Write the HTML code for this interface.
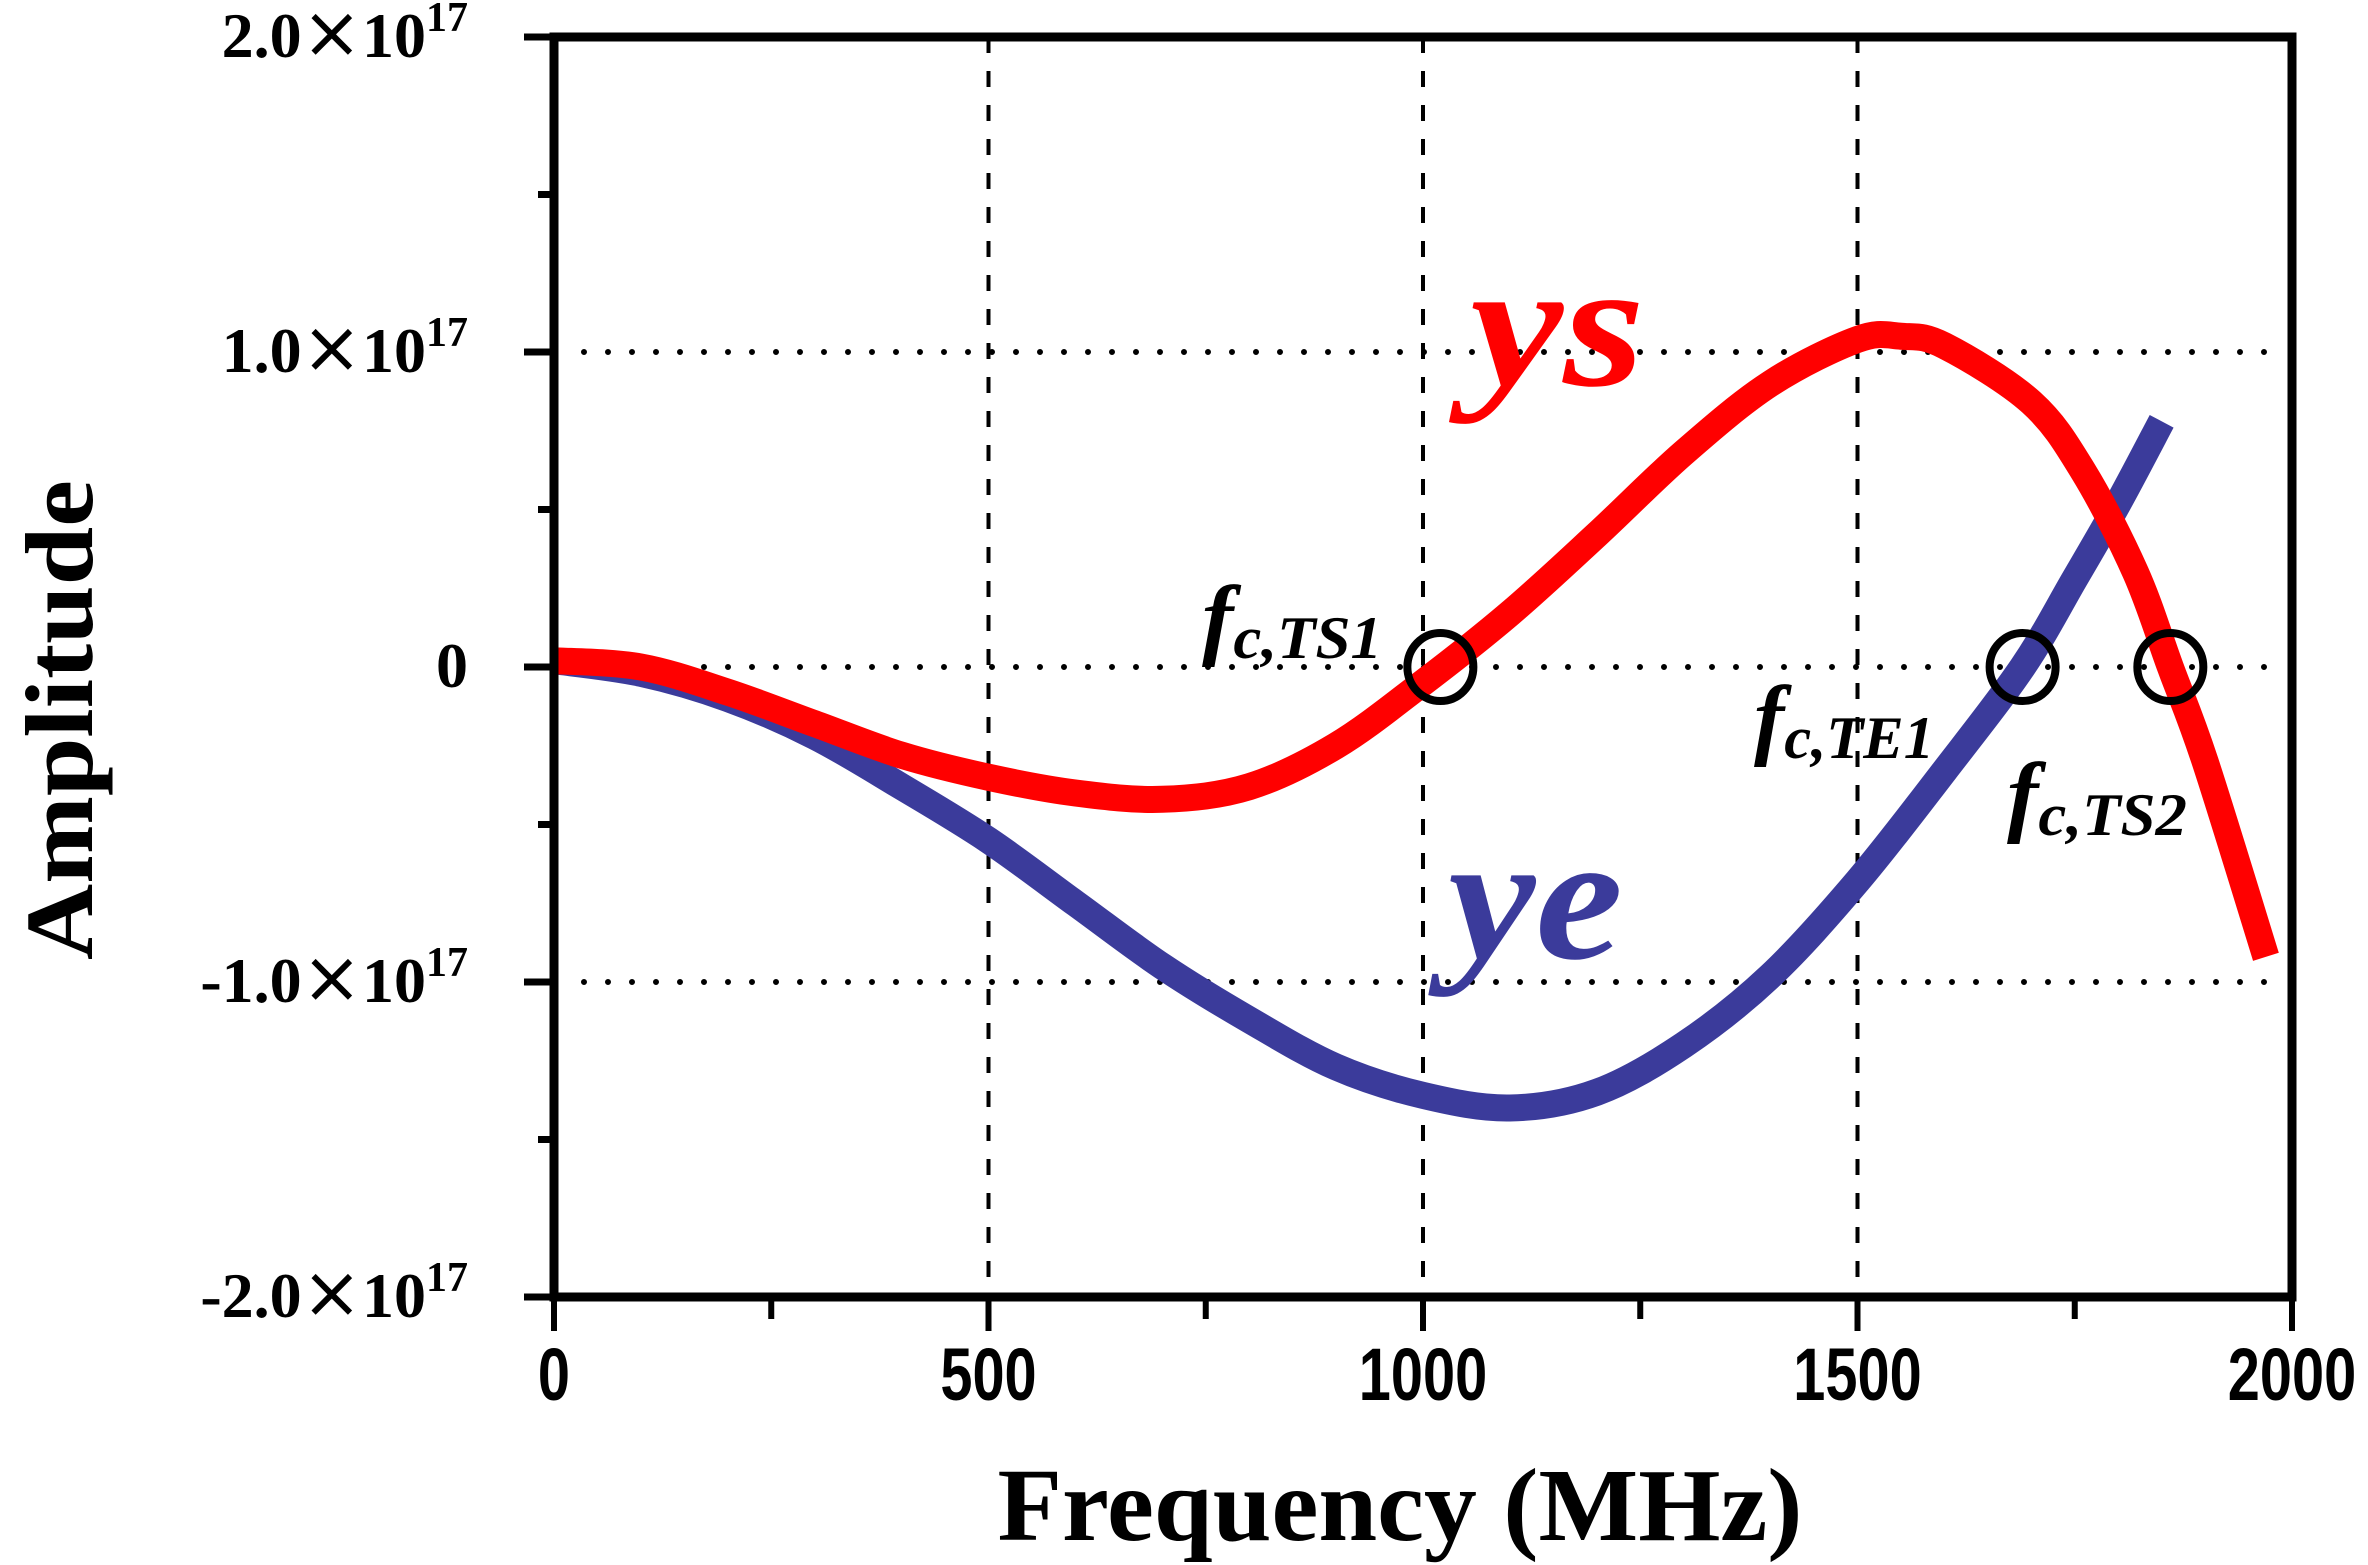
<!DOCTYPE html>
<html><head><meta charset="utf-8"><style>
html,body{margin:0;padding:0;background:#fff;}
svg{display:block;}
</style></head><body>
<svg id="chart" width="2368" height="1565" viewBox="0 0 2368 1565" xmlns="http://www.w3.org/2000/svg">
</svg>
<script>
const xTicks = [0, 500, 1000, 1500, 2000];
const xTickLabels = ["0", "500", "1000", "1500", "2000"];
const yTicks = [2, 1, 0, -1, -2];
const yTickLabelsMain = ["2.0", "1.0", "0", "-1.0", "-2.0"];
const yTickLabelsExp = ["17", "17", "", "17", "17"];
const ysFreq = [0, 100, 200, 300, 400, 500, 600, 700, 800, 900, 1000, 1100, 1200, 1300, 1400, 1500, 1550, 1600, 1700, 1760, 1820, 1860, 1900, 1970];
const ysVals = [0.02, 0.0, -0.08, -0.18, -0.28, -0.35, -0.4, -0.42, -0.38, -0.25, -0.05, 0.17, 0.42, 0.68, 0.9, 1.04, 1.05, 1.02, 0.84, 0.62, 0.3, 0.0, -0.3, -0.92];
const yeFreq = [0, 100, 200, 300, 400, 500, 600, 700, 800, 900, 1000, 1100, 1200, 1300, 1400, 1500, 1600, 1690, 1750, 1800, 1850];
const yeVals = [0.02, -0.02, -0.1, -0.22, -0.38, -0.55, -0.75, -0.95, -1.12, -1.27, -1.36, -1.4, -1.35, -1.2, -0.98, -0.68, -0.33, 0.0, 0.28, 0.52, 0.78];
const crossFreq = [1020, 1690, 1860];
const crossVals = [0, 0, 0];

const NS = "http://www.w3.org/2000/svg";
const svg = document.getElementById('chart');
const L = 554, R = 2292, T = 37, B = 1297;
const X = f => L + (f - 0) / 2000 * (R - L);
const Y = v => T + (2 - v) / 4 * (B - T);
function mk(tag, attrs, parent) {
  const e = document.createElementNS(NS, tag);
  for (const k in attrs) e.setAttribute(k, attrs[k]);
  (parent || svg).appendChild(e);
  return e;
}
[500, 1000, 1500].forEach(f => {
  const g = mk('line', {x1: X(f), x2: X(f), y1: T, y2: B, stroke: '#000', 'stroke-width': 4, 'stroke-dasharray': '16 18'});
  
  
});
[1, 0, -1].forEach(v => {
  const g = mk('line', {x1: L + 30, x2: R - 15, y1: Y(v), y2: Y(v), stroke: '#000', 'stroke-width': 6, 'stroke-linecap': 'round', 'stroke-dasharray': '0 24'});
  
  
});
function curve(fr, vals, color, name) {
  const pts = fr.map((f, i) => [X(f), Y(vals[i])]);
  let d = 'M' + pts[0][0] + ',' + pts[0][1];
  for (let i = 0; i < pts.length - 1; i++) {
    const p0 = pts[i - 1] || pts[i], p1 = pts[i], p2 = pts[i + 1], p3 = pts[i + 2] || p2;
    const c1x = p1[0] + (p2[0] - p0[0]) / 6, c1y = p1[1] + (p2[1] - p0[1]) / 6;
    const c2x = p2[0] - (p3[0] - p1[0]) / 6, c2y = p2[1] - (p3[1] - p1[1]) / 6;
    d += ' C' + c1x + ',' + c1y + ' ' + c2x + ',' + c2y + ' ' + p2[0] + ',' + p2[1];
  }
  const p = mk('path', {d: d, fill: 'none', stroke: color, 'stroke-width': 27});
  
  
}
curve(yeFreq, yeVals, '#3b3b9b', 'ye-curve');
curve(ysFreq, ysVals, '#ff0000', 'ys-curve');
crossFreq.forEach((f, i) => {
  const c = mk('ellipse', {cx: X(f), cy: Y(crossVals[i]), rx: 33, ry: 34, fill: 'none', stroke: '#000', 'stroke-width': 8});
  
  
});
const fr = mk('path', {d: `M${L},${T} H${R} V${B} H${L} Z`, fill: 'none', stroke: '#000', 'stroke-width': 9});


for (let v = -2; v <= 2; v += 0.5) {
  const major = Number.isInteger(v);
  const t = mk('line', {x1: major ? 524 : 538, x2: L, y1: Y(v), y2: Y(v), stroke: '#000', 'stroke-width': 7});
  
  
}
for (let f = 0; f <= 2000; f += 250) {
  const major = f % 500 === 0;
  const t = mk('line', {x1: X(f), x2: X(f), y1: B, y2: B + (major ? 34 : 22), stroke: '#000', 'stroke-width': 6});
  
  
}
xTicks.forEach((f, i) => {
  const t = mk('text', {x: X(f), y: 1400, 'text-anchor': 'middle', 'font-family': 'Liberation Sans, sans-serif', 'font-weight': 'bold', 'font-size': 74, transform: `translate(${X(f)},0) scale(0.78,1) translate(${-X(f)},0)`});
  t.textContent = xTickLabels[i];
  
  
});
yTicks.forEach((v, i) => {
  const t = mk('text', {x: 468, y: Y(v) + 20, 'text-anchor': 'end', 'font-family': 'Liberation Serif, serif', 'font-weight': 'bold', 'font-size': 64});
  
  
  const a = mk('tspan', {}, t);
  a.textContent = yTickLabelsMain[i];
  if (yTickLabelsExp[i]) {
    const x = mk('tspan', {'font-size': 72, 'font-weight': 'normal', 'font-family': 'DejaVu Sans, sans-serif'}, t);
    x.textContent = '\u00D7';
    const c = mk('tspan', {}, t);
    c.textContent = '10';
    const b = mk('tspan', {'font-size': 42, dy: -26}, t);
    b.textContent = yTickLabelsExp[i];
  }
});
const xt = mk('text', {x: 1400, y: 1540, 'text-anchor': 'middle', 'font-family': 'Liberation Serif, serif', 'font-weight': 'bold', 'font-size': 104, textLength: 805, lengthAdjust: 'spacingAndGlyphs'});
xt.textContent = 'Frequency (MHz)';


const yt = mk('text', {x: 0, y: 0, 'text-anchor': 'middle', 'font-family': 'Liberation Serif, serif', 'font-weight': 'bold', 'font-size': 96, transform: 'translate(92,720) rotate(-90)', textLength: 480, lengthAdjust: 'spacingAndGlyphs'});
yt.textContent = 'Amplitude';


function lab(txt, x, y, color, name) {
  const t = mk('text', {x: x, y: y, 'font-family': 'Liberation Serif, serif', 'font-weight': 'bold', 'font-style': 'italic', 'font-size': 180, fill: color, textLength: 175, lengthAdjust: 'spacingAndGlyphs'});
  t.textContent = txt;
  
  
}
lab('ys', 1470, 385, '#ff0000', 'ys-label');
lab('ye', 1448, 958, '#3b3b9b', 'ye-label');
function fc(sub, x, y, name) {
  const t = mk('text', {x: x, y: y, 'font-family': 'Liberation Serif, serif', 'font-weight': 'bold', 'font-style': 'italic', 'font-size': 90, textLength: 180, lengthAdjust: 'spacingAndGlyphs'});
  
  
  const a = mk('tspan', {}, t); a.textContent = 'f';
  const b = mk('tspan', {'font-size': 60, dy: 10}, t); b.textContent = 'c,' + sub;
}
fc('TS1', 1202, 648, 'fc-ts1-label');
fc('TE1', 1754, 748, 'fc-te1-label');
fc('TS2', 2007, 825, 'fc-ts2-label');
</script>
</body></html>
